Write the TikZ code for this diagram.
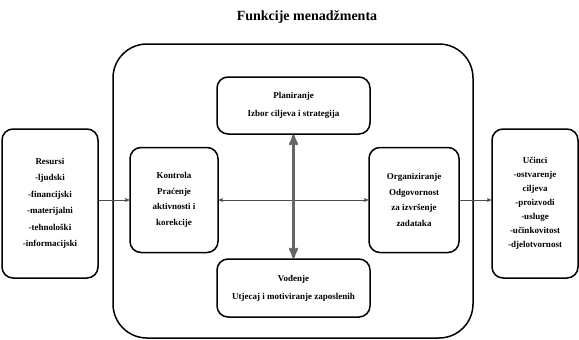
\documentclass[tikz,border=0pt]{standalone}
\usepackage{fontspec}
\setmainfont{Liberation Serif}
\usetikzlibrary{arrows,positioning}

\tikzset{
  fbox/.style={draw,line width=1.5pt,rounded corners=11pt,align=center,inner sep=1pt},
  ftext/.style={font=\bfseries\fontsize{9}{#1}\selectfont},
  flow/.style={->,draw=black!70,line width=0.6pt},
}

\begin{document}
\begin{tikzpicture}[x=1pt,y=-1pt,>=stealth']
 \useasboundingbox (0,0) rectangle (579,340);
 \node[font=\bfseries\fontsize{14}{16}\selectfont] (title) at (307,17) {Funkcije menadžmenta};

 % okvir funkcija
 \node[draw,line width=1.5pt,rounded corners=34pt,minimum width=360pt,minimum height=294pt] (menadzment) at (293,191) {};

 \node[fbox,ftext=18,minimum width=153pt,minimum height=57pt] (plan) at (293.5,105.5)
  {Planiranje\\Izbor ciljeva i strategija};
 \node[fbox,ftext=18,minimum width=153pt,minimum height=58pt] (vod) at (293.5,288)
  {Vođenje\\Utjecaj i motiviranje zaposlenih};
 \node[fbox,ftext=15.5,minimum width=88pt,minimum height=105pt] (kon) at (174,200)
  {Kontrola\\Praćenje\\aktivnosti i\\korekcije};
 \node[fbox,ftext=15.5,minimum width=90pt,minimum height=105pt] (org) at (414,200)
  {Organiziranje\\Odgovornost\\za izvršenje\\zadataka};

 % ulaz i izlaz
 \node[fbox,ftext=16.5,minimum width=96pt,minimum height=149pt] (res) at (50,203.5)
  {Resursi\\-ljudski\\-financijski\\-materijalni\\-tehnološki\\-informacijski};
 \node[fbox,ftext=14,minimum width=86pt,minimum height=149pt] (ucinci) at (535,203.5)
  {Učinci\\-ostvarenje\\ciljeva\\-proizvodi\\-usluge\\-učinkovitost\\-djelotvornost};

 \draw[flow] (res.east |- kon.west) -- (kon.west);
 \draw[flow,<->] (kon.east) -- (org.west);
 \draw[flow] (org.east) -- (ucinci.west |- org.east);
 \draw[<->,draw=black!60,line width=2.5pt] (plan.south) -- (vod.north);
\end{tikzpicture}
\end{document}
